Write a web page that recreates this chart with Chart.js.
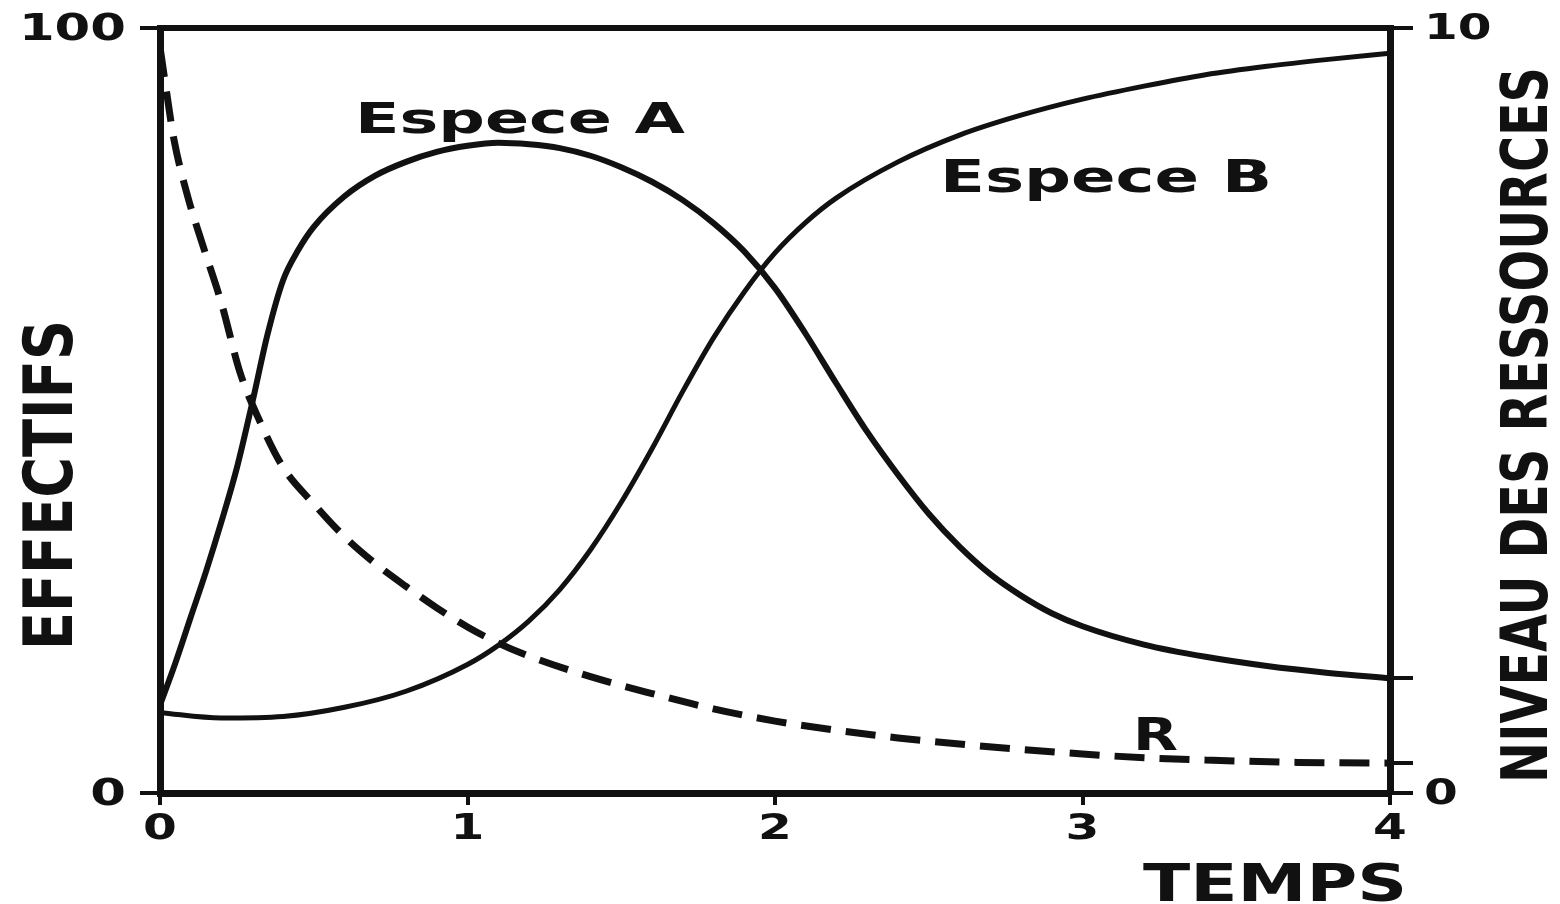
<!DOCTYPE html>
<html>
<head>
<meta charset="utf-8">
<title>Especes A et B - ressources</title>
<script src="https://cdn.jsdelivr.net/npm/chart.js@4.4.1/dist/chart.umd.min.js"></script>
<style>
  html, body { margin: 0; padding: 0; background: #fff; }
  #wrap { width: 1560px; height: 904px; }
</style>
</head>
<body>
<div id="wrap"><canvas id="myChart"></canvas></div>
<script>
// effectifs de l'espece A
const tA = [0, 0.05, 0.1, 0.15, 0.2, 0.25, 0.3, 0.35, 0.4, 0.45, 0.5, 0.6, 0.7, 0.8, 0.9, 1.0, 1.1, 1.2, 1.3, 1.4, 1.5, 1.6, 1.7, 1.8, 1.9, 2.0, 2.1, 2.2, 2.3, 2.4, 2.5, 2.6, 2.7, 2.8, 2.9, 3.0, 3.2, 3.4, 3.6, 3.8, 4.0];
const especeA = [11.5, 17, 23, 29, 35.5, 42.5, 51, 60, 67, 71, 74, 78, 80.7, 82.5, 83.8, 84.6, 85, 84.8, 84.3, 83.3, 81.8, 79.9, 77.5, 74.5, 70.8, 66, 60, 53.5, 47.2, 41.6, 36.5, 32.2, 28.6, 25.8, 23.5, 21.8, 19.4, 17.8, 16.6, 15.7, 15];

// effectifs de l'espece B
const tB = [0, 0.2, 0.4, 0.6, 0.8, 1.0, 1.1, 1.2, 1.3, 1.4, 1.5, 1.6, 1.7, 1.8, 1.9, 2.0, 2.1, 2.2, 2.4, 2.6, 2.8, 3.0, 3.2, 3.4, 3.6, 3.8, 4.0];
const especeB = [10.5, 9.8, 10.0, 11.2, 13.3, 16.8, 19.3, 22.5, 26.6, 31.8, 38, 45, 52.5, 59.5, 65.5, 70.6, 74.6, 77.8, 82.5, 86, 88.6, 90.7, 92.4, 93.9, 95, 95.9, 96.7];

// niveau des ressources R (axe de droite)
const tR = [0, 0.02, 0.045, 0.09, 0.14, 0.2, 0.26, 0.32, 0.4, 0.5, 0.6, 0.7, 0.8, 0.9, 1.0, 1.1, 1.2, 1.4, 1.6, 1.8, 2.0, 2.2, 2.4, 2.6, 2.8, 3.0, 3.2, 3.4, 3.7, 4.0];
const ressourceR = [9.75, 9.2, 8.55, 7.8, 7.15, 6.4, 5.5, 4.9, 4.26, 3.78, 3.35, 3.0, 2.7, 2.42, 2.17, 1.96, 1.79, 1.52, 1.3, 1.1, 0.94, 0.82, 0.72, 0.64, 0.57, 0.51, 0.46, 0.43, 0.4, 0.39];

// graduations
const tempsTicks = [0, 1, 2, 3, 4];
const effectifsTicks = [0, 100];
const effectifsLabels = ['0', '100'];
const ressourcesTicks = [0, 0.39, 1.5, 10];
const ressourcesLabels = ['0', '', '', '10'];

const INK = '#111';
const FONT = '"DejaVu Sans"';

function toPoints(xs, ys) {
  return xs.map((x, i) => ({ x: x, y: ys[i] }));
}

// texte gras etire horizontalement (police large de la figure)
function drawText(ctx, text, x, y, size, opts) {
  opts = opts || {};
  ctx.save();
  ctx.font = 'bold ' + size + 'px ' + FONT;
  let sx = opts.stretch || 1.35;
  if (opts.width) sx = opts.width / ctx.measureText(text).width;
  ctx.translate(x, y);
  if (opts.angle) ctx.rotate(opts.angle);
  ctx.scale(sx, 1);
  ctx.textAlign = opts.align || 'left';
  ctx.textBaseline = opts.baseline || 'alphabetic';
  ctx.fillStyle = INK;
  ctx.fillText(text, 0, 0);
  ctx.restore();
}

const textPlugin = {
  id: 'textes',
  afterDraw(chart) {
    const ctx = chart.ctx;
    const { x, y, y2 } = chart.scales;

    // valeurs des axes
    x.ticks.forEach(t => {
      drawText(ctx, t.label, x.getPixelForValue(t.value), 830, 36, { align: 'center', baseline: 'middle' });
    });
    y.ticks.forEach(t => {
      if (t.label) drawText(ctx, t.label, 126, y.getPixelForValue(t.value) + 2, 38, { align: 'right', baseline: 'middle' });
    });
    y2.ticks.forEach(t => {
      if (t.label) drawText(ctx, t.label, 1424, y2.getPixelForValue(t.value) + 2, 36, { align: 'left', baseline: 'middle' });
    });

    // titres des axes
    drawText(ctx, 'EFFECTIFS', 72, 650, 68, { width: 330, angle: -Math.PI / 2 });
    drawText(ctx, 'NIVEAU DES RESSOURCES', 1547, 783, 64, { width: 716, angle: -Math.PI / 2 });
    drawText(ctx, 'TEMPS', 1143, 901, 51, { width: 264 });

    // noms des courbes
    drawText(ctx, 'Espece A', 355, 133, 43, { width: 330 });
    drawText(ctx, 'Espece B', 940, 192, 44, { width: 332 });
    drawText(ctx, 'R', 1133, 750, 45, { width: 45 });
  }
};

function fixedTicks(values) {
  return function (scale) {
    scale.ticks = values.map(v => ({ value: v }));
  };
}

function tickCallback(labels) {
  return (value, index) => labels[index];
}

const ctx = document.getElementById('myChart');

new Chart(ctx, {
  type: 'line',
  data: {
    datasets: [
      {
        label: 'Espece A',
        data: toPoints(tA, especeA),
        yAxisID: 'y',
        borderColor: INK,
        borderWidth: 6,
        pointRadius: 0,
        cubicInterpolationMode: 'monotone'
      },
      {
        label: 'Espece B',
        data: toPoints(tB, especeB),
        yAxisID: 'y',
        borderColor: INK,
        borderWidth: 5,
        pointRadius: 0,
        cubicInterpolationMode: 'monotone'
      },
      {
        label: 'R',
        data: toPoints(tR, ressourceR),
        yAxisID: 'y2',
        borderColor: INK,
        borderWidth: 7,
        borderDash: [30, 15],
        pointRadius: 0,
        cubicInterpolationMode: 'monotone'
      }
    ]
  },
  options: {
    responsive: true,
    maintainAspectRatio: false,
    animation: false,
    layout: { padding: 0 },
    plugins: {
      legend: { display: false },
      tooltip: { enabled: false }
    },
    scales: {
      x: {
        type: 'linear',
        position: 'bottom',
        min: 0,
        max: 4,
        afterBuildTicks: fixedTicks(tempsTicks),
        afterFit(scale) { scale.height = 111; },
        ticks: { display: false, callback: v => String(v) },
        grid: { drawOnChartArea: false, drawTicks: true, tickLength: 12, tickWidth: 4, tickColor: INK, lineWidth: 4, color: INK },
        border: { color: INK, width: 7 }
      },
      xTop: {
        type: 'linear',
        position: 'top',
        min: 0,
        max: 4,
        afterFit(scale) { scale.height = 28; },
        ticks: { display: false },
        grid: { drawOnChartArea: false, drawTicks: false },
        border: { color: INK, width: 6 }
      },
      y: {
        type: 'linear',
        position: 'left',
        min: 0,
        max: 100,
        afterBuildTicks: fixedTicks(effectifsTicks),
        afterFit(scale) { scale.width = 160; },
        ticks: { display: false, callback: tickCallback(effectifsLabels) },
        grid: { drawOnChartArea: false, drawTicks: true, tickLength: 20, tickWidth: 4, tickColor: INK, lineWidth: 4, color: INK },
        border: { color: INK, width: 7 }
      },
      y2: {
        type: 'linear',
        position: 'right',
        min: 0,
        max: 10,
        afterBuildTicks: fixedTicks(ressourcesTicks),
        afterFit(scale) { scale.width = 170; },
        ticks: { display: false, callback: tickCallback(ressourcesLabels) },
        grid: { drawOnChartArea: false, drawTicks: true, tickLength: 23, tickWidth: 4, tickColor: INK, lineWidth: 4, color: INK },
        border: { color: INK, width: 7 }
      }
    }
  },
  plugins: [textPlugin]
});
</script>
</body>
</html>
